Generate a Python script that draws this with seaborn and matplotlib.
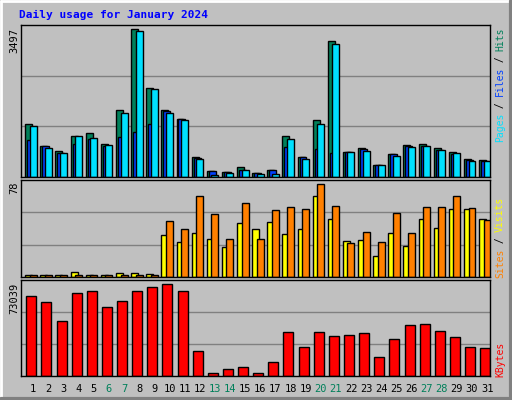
import numpy as np
import pandas as pd
import matplotlib
matplotlib.use("Agg")
import matplotlib.pyplot as plt
import seaborn as sns

days = list(range(1, 32))
hits = [1250, 744, 625, 981, 1052, 791, 1582, 3497, 2096, 1598, 1384, 483, 150, 127, 229, 103, 174,
        981, 483, 1345, 3211, 601, 696, 293, 554, 767, 791, 696, 601, 435, 411]
files = [870, 730, 577, 775, 894, 728, 941, 1076, 1250, 1566, 1368, 459, 150, 111, 158, 87, 158,
         704, 467, 657, 577, 585, 657, 293, 554, 728, 744, 633, 554, 411, 388]
pages = [1218, 696, 577, 981, 933, 767, 1527, 3449, 2072, 1527, 1360, 435, 55, 103, 174, 79, 79,
         910, 435, 1266, 3140, 601, 625, 293, 506, 720, 744, 649, 577, 388, 388]
visits = [2, 2, 2, 4.5, 2, 2, 3.6, 3.6, 2.8, 35.6, 29.7, 37.3, 32.3, 25.5, 45.7, 40.7, 46.6,
          36.5, 40.7, 68.5, 49.1, 30.6, 31.4, 18, 37.3, 26.4, 49.1, 41.5, 57.5, 57.5, 49.1]
sites = [2, 2, 2, 2, 2, 2, 2, 2, 2, 47.4, 40.7, 68.5, 53.3, 32.3, 62.6, 32.3, 56.7,
         59.2, 57.5, 78, 60, 28.9, 38.2, 29.7, 54.2, 37.3, 59.2, 59.2, 68.5, 58.4, 48.3]
kbytes = [63450, 58650, 43450, 65850, 67450, 54650, 59450, 67450, 70650, 73039, 67450, 19460,
          2670, 5870, 7460, 2670, 11460, 34660, 22660, 34660, 31460, 32260, 33860, 15460,
          29060, 40260, 41060, 35460, 30660, 22660, 21860]
weekends = [6, 7, 13, 14, 20, 21, 27, 28]
title = "Daily usage for January 2024"

W, H = 512, 400
BG = "#C0C0C0"
C_HITS, C_FILES, C_PAGES = "#00805A", "#0040FF", "#00E0FF"
C_VIS, C_SITES, C_KB = "#FFFF00", "#FF8000", "#FF0000"
MONO = "DejaVu Sans Mono"

sns.set_style("white")
plt.rcParams["font.family"] = [MONO]

fig = plt.figure(figsize=(W / 100, H / 100), dpi=100, facecolor=BG)

def ax_px(x0, y0, x1, y1):
    return fig.add_axes([x0 / W, 1 - y1 / H, (x1 - x0) / W, (y1 - y0) / H])

XL = (0.19, 31.19)
df = pd.DataFrame({"day": days})

def setup(ax, top):
    ax.set_facecolor(BG)
    ax.set_xlim(*XL)
    ax.set_ylim(0, top)
    for f in (1 / 3, 2 / 3):
        ax.axhline(top * f, color="#808080", lw=1, zorder=0)
    ax.set_xticks([]); ax.set_yticks([])
    ax.set_xlabel(""); ax.set_ylabel("")
    for s in ax.spines.values():
        s.set_color("black"); s.set_linewidth(1)

def bars(ax, vals, off, width, color):
    sns.barplot(x=np.array(days) + off, y=vals, native_scale=True, width=width,
                color=color, edgecolor="black", linewidth=1, saturation=1, ax=ax, zorder=2)

# top panel
ax1 = ax_px(21, 25, 490, 177)
bars(ax1, hits, -0.30, 0.46, C_HITS)
bars(ax1, files, -0.17, 0.46, C_FILES)
bars(ax1, pages, 0.0, 0.46, C_PAGES)
setup(ax1, 3599)

ax2 = ax_px(21, 180, 490, 277)
bars(ax2, visits, -0.30, 0.46, C_VIS)
bars(ax2, sites, 0.0, 0.46, C_SITES)
setup(ax2, 81.6)

ax3 = ax_px(21, 280, 490, 376)
bars(ax3, kbytes, -0.13, 0.66, C_KB)
setup(ax3, 76236)

# day labels
for d in days:
    x = 33.3 + 15.13 * (d - 1)
    fig.text(x / W, 1 - 389 / H, str(d), ha="center", va="center", fontsize=7.5,
             color=C_HITS if d in weekends else "black")

# title
fig.text(19 / W, 1 - 15 / H, title, ha="left", va="center", fontsize=8,
         fontweight="bold", color="#0000FF")

# left max labels
for v, ytop in ((hits, 28), (sites, 181), (kbytes, 283)):
    fig.text(14 / W, 1 - ytop / H, str(int(max(v))), rotation=90, ha="center", va="top",
             fontsize=7.5, color="black")

# right legends (read bottom to top)
CW = 5.7
def vlegend(pieces, ytop):
    n = sum(len(p) for p, _ in pieces)
    ybot = ytop + n * CW
    pos = 0
    for txt, col in pieces:
        fig.text(500 / W, 1 - (ybot - pos * CW) / H, txt, rotation=90, ha="center",
                 va="bottom", fontsize=7, color=col)
        pos += len(txt)

vlegend([("Pages", C_PAGES), (" / ", "black"), ("Files", C_FILES), (" / ", "black"),
         ("Hits", C_HITS)], 28)
vlegend([("Sites", C_SITES), (" / ", "black"), ("Visits", C_VIS)], 198)
vlegend([("KBytes", C_KB)], 343)

# 3D outer border
bx = fig.add_axes([0, 0, 1, 1], facecolor="none")
bx.set_xlim(0, W); bx.set_ylim(H, 0); bx.axis("off")
bx.plot([1, W - 1], [1, 1], color="white", lw=2)
bx.plot([1, 1], [1, H - 1], color="white", lw=2)
bx.plot([1, W - 1], [H - 1.5, H - 1.5], color="#808080", lw=3)
bx.plot([W - 1.5, W - 1.5], [1, H - 1], color="#808080", lw=3)

fig.savefig("out.png", dpi=100, facecolor=BG)
